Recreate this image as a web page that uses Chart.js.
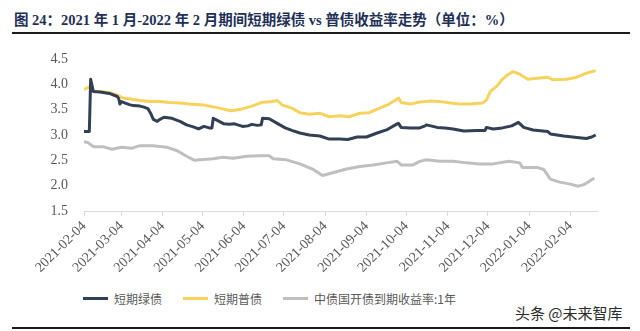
<!DOCTYPE html>
<html>
<head>
<meta charset="utf-8">
<script src="https://cdn.jsdelivr.net/npm/chart.js@4"></script>
<style>
  body { margin: 0; background: #fff; width: 640px; height: 331px; position: relative; overflow: hidden; }
  #title { position: absolute; left: 14px; top: 8px; font: bold 14.5px "Liberation Serif", "Noto Sans CJK SC", serif; color: #1f3057; white-space: nowrap; }
  .rule { position: absolute; left: 12px; width: 618px; height: 2px; background: #1b1b1b; }
  #chart-box { position: absolute; left: 0; top: 0; }
  #legend { position: absolute; left: 83px; top: 290px; display: flex; font: 12px "Noto Sans CJK SC", sans-serif; color: #595959; }
  .item { display: flex; align-items: center; height: 16px; }
  .item .swatch { width: 25px; height: 3px; margin-right: 6px; }
  #mark { position: absolute; left: 515px; top: 302px; font: 15px "Noto Sans CJK SC", sans-serif; color: #2b2b2b; }
</style>
</head>
<body>
<div id="title">图 24：2021 年 1 月-2022 年 2 月期间短期绿债 vs 普债收益率走势（单位：%）</div>
<div class="rule" style="top: 32px;"></div>
<div id="chart-box"><canvas id="yieldChart" width="640" height="285"></canvas></div>
<div id="legend"></div>
<div id="mark">头条 @未来智库</div>
<div class="rule" style="top: 327px;"></div>

<script>
// x-axis tick dates (monthly)
const tickDates = ['2021-02-04', '2021-03-04', '2021-04-04', '2021-05-04', '2021-06-04', '2021-07-04',
    '2021-08-04', '2021-09-04', '2021-10-04', '2021-11-04', '2021-12-04', '2022-01-04', '2022-02-04'];

const seriesNames = ['短期绿债', '短期普债', '中债国开债到期收益率:1年'];
const seriesColors = ['#333f55', '#f7d35e', '#bfbfbf'];

// 短期绿债
const greenDates = ['2021-02-04', '2021-02-08', '2021-02-09', '2021-02-11', '2021-02-16', '2021-02-23',
    '2021-03-01', '2021-03-02', '2021-03-03', '2021-03-04', '2021-03-07', '2021-03-10', '2021-03-13',
    '2021-03-18', '2021-03-21', '2021-03-24', '2021-03-26', '2021-03-28', '2021-03-31', '2021-04-02',
    '2021-04-05', '2021-04-11', '2021-04-17', '2021-04-22', '2021-04-27', '2021-05-01', '2021-05-05',
    '2021-05-09', '2021-05-11', '2021-05-12', '2021-05-15', '2021-05-20', '2021-05-24', '2021-05-28',
    '2021-06-03', '2021-06-07', '2021-06-10', '2021-06-14', '2021-06-17', '2021-06-18', '2021-06-23',
    '2021-06-29', '2021-07-05', '2021-07-10', '2021-07-16', '2021-07-23', '2021-07-31', '2021-08-07',
    '2021-08-15', '2021-08-21', '2021-08-28', '2021-09-04', '2021-09-12', '2021-09-19', '2021-09-27',
    '2021-09-28', '2021-09-30', '2021-10-07', '2021-10-14', '2021-10-18', '2021-10-19', '2021-10-27',
    '2021-11-02', '2021-11-08', '2021-11-16', '2021-11-26', '2021-12-02', '2021-12-03', '2021-12-08',
    '2021-12-15', '2021-12-22', '2021-12-27', '2021-12-31', '2022-01-07', '2022-01-18', '2022-01-20',
    '2022-01-30', '2022-02-09', '2022-02-16', '2022-02-20', '2022-02-23'];
const greenYield = [3.07, 3.07, 4.10, 3.86, 3.85, 3.82,
    3.76, 3.72, 3.61, 3.66, 3.63, 3.60, 3.58,
    3.57, 3.55, 3.52, 3.43, 3.31, 3.27, 3.31,
    3.35, 3.33, 3.27, 3.20, 3.16, 3.12, 3.17,
    3.14, 3.14, 3.33, 3.29, 3.22, 3.21, 3.22,
    3.17, 3.18, 3.21, 3.19, 3.20, 3.33, 3.32,
    3.23, 3.14, 3.09, 3.04, 3.00, 2.98, 2.92,
    2.92, 2.91, 2.96, 2.96, 3.04, 3.10, 3.22,
    3.23, 3.15, 3.14, 3.14, 3.18, 3.20, 3.15,
    3.14, 3.12, 3.08, 3.09, 3.09, 3.15, 3.12,
    3.14, 3.18, 3.25, 3.15, 3.10, 3.07, 3.02,
    2.98, 2.95, 2.93, 2.96, 3.00];

// 短期普债
const ordinaryDates = ['2021-02-04', '2021-02-08', '2021-02-11', '2021-02-16', '2021-02-23', '2021-03-01',
    '2021-03-05', '2021-03-11', '2021-03-18', '2021-03-26', '2021-04-02', '2021-04-09', '2021-04-17',
    '2021-04-24', '2021-05-05', '2021-05-15', '2021-05-25', '2021-06-02', '2021-06-10', '2021-06-17',
    '2021-06-25', '2021-06-29', '2021-07-03', '2021-07-10', '2021-07-16', '2021-07-23', '2021-07-31',
    '2021-08-07', '2021-08-15', '2021-08-22', '2021-08-30', '2021-09-06', '2021-09-14', '2021-09-21',
    '2021-09-27', '2021-09-28', '2021-09-30', '2021-10-07', '2021-10-14', '2021-10-22', '2021-10-29',
    '2021-11-06', '2021-11-13', '2021-11-21', '2021-11-30', '2021-12-03', '2021-12-06', '2021-12-11',
    '2021-12-15', '2021-12-19', '2021-12-23', '2021-12-28', '2022-01-03', '2022-01-10', '2022-01-18',
    '2022-01-22', '2022-02-01', '2022-02-09', '2022-02-16', '2022-02-23'];
const ordinaryYield = [3.90, 3.95, 3.86, 3.86, 3.84, 3.79,
    3.73, 3.71, 3.68, 3.66, 3.66, 3.64, 3.63,
    3.61, 3.59, 3.54, 3.48, 3.51, 3.57, 3.64,
    3.66, 3.68, 3.59, 3.53, 3.44, 3.41, 3.43,
    3.36, 3.38, 3.36, 3.43, 3.44, 3.53, 3.61,
    3.71, 3.73, 3.64, 3.61, 3.65, 3.67, 3.66,
    3.63, 3.61, 3.61, 3.63, 3.69, 3.86, 3.97,
    4.10, 4.19, 4.25, 4.20, 4.10, 4.12, 4.14,
    4.09, 4.10, 4.14, 4.22, 4.27];

// 中债国开债到期收益率:1年
const cdbDates = ['2021-02-04', '2021-02-07', '2021-02-11', '2021-02-18', '2021-02-25', '2021-03-04',
    '2021-03-12', '2021-03-18', '2021-03-28', '2021-04-07', '2021-04-15', '2021-04-22', '2021-04-28',
    '2021-05-02', '2021-05-12', '2021-05-19', '2021-05-27', '2021-06-06', '2021-06-16', '2021-06-23',
    '2021-06-26', '2021-07-06', '2021-07-16', '2021-07-26', '2021-08-02', '2021-08-09', '2021-08-20',
    '2021-08-30', '2021-09-09', '2021-09-19', '2021-09-27', '2021-09-30', '2021-10-09', '2021-10-14',
    '2021-10-19', '2021-10-29', '2021-11-08', '2021-11-18', '2021-11-28', '2021-12-08', '2021-12-20',
    '2021-12-28', '2021-12-30', '2022-01-10', '2022-01-15', '2022-01-20', '2022-01-27', '2022-02-04',
    '2022-02-10', '2022-02-14', '2022-02-18', '2022-02-22'];
const cdbYield = [2.87, 2.85, 2.77, 2.77, 2.72, 2.76,
    2.74, 2.79, 2.79, 2.76, 2.69, 2.58, 2.50,
    2.51, 2.53, 2.56, 2.54, 2.58, 2.59, 2.59,
    2.53, 2.51, 2.43, 2.32, 2.20, 2.25, 2.33,
    2.38, 2.41, 2.45, 2.48, 2.41, 2.41, 2.48,
    2.51, 2.48, 2.48, 2.45, 2.43, 2.43, 2.48,
    2.45, 2.36, 2.36, 2.32, 2.13, 2.07, 2.03,
    1.99, 2.02, 2.08, 2.15];

// days counted from the first trading date
const startDay = Date.parse(tickDates[0]);
function dayOf(date) {
    return (Date.parse(date) - startDay) / 86400000;
}

function toPoints(dates, values) {
    return dates.map((d, i) => ({ x: dayOf(d), y: values[i] }));
}

const pointSets = [
    toPoints(greenDates, greenYield),
    toPoints(ordinaryDates, ordinaryYield),
    toPoints(cdbDates, cdbYield)
];

const serif = '"Liberation Serif", "Times New Roman", serif';
const axisGrey = '#d9d9d9';

const ctx = document.getElementById('yieldChart').getContext('2d');
const yieldChart = new Chart(ctx, {
    type: 'line',
    data: {
        datasets: pointSets.map((pts, i) => ({
            label: seriesNames[i],
            data: pts,
            borderColor: seriesColors[i],
            backgroundColor: seriesColors[i],
            borderWidth: 3,
            pointRadius: 0,
            tension: 0,
            borderJoinStyle: 'round'
        }))
    },
    options: {
        responsive: false,
        animation: false,
        layout: { padding: { top: 59, right: 43, bottom: 0, left: 0 } },
        plugins: {
            legend: { display: false },
            tooltip: { enabled: false }
        },
        scales: {
            x: {
                type: 'linear',
                min: 0,
                max: dayOf('2022-02-24'),
                afterBuildTicks: scale => {
                    scale.ticks = tickDates.map(d => ({ value: dayOf(d) }));
                },
                afterFit: scale => { scale.height = 74; },
                grid: { drawOnChartArea: false, drawTicks: true, tickLength: 5, color: axisGrey },
                border: { display: true, color: axisGrey, width: 1 },
                ticks: {
                    autoSkip: false,
                    maxRotation: 45,
                    minRotation: 45,
                    padding: 2,
                    color: '#595959',
                    font: { family: serif, size: 14 },
                    callback: (value, index) => tickDates[index]
                }
            },
            y: {
                min: 1.5,
                max: 4.5,
                afterFit: scale => { scale.width = 84; },
                grid: { display: false, drawTicks: false },
                border: { display: false },
                ticks: {
                    stepSize: 0.5,
                    padding: 16,
                    color: '#595959',
                    font: { family: serif, size: 14 },
                    callback: value => value.toFixed(1)
                }
            }
        }
    }
});

// legend built from the same series names and colours
const legend = document.getElementById('legend');
seriesNames.forEach((name, i) => {
    const item = document.createElement('div');
    item.className = 'item';
    if (i < seriesNames.length - 1) item.style.width = '100px';
    const swatch = document.createElement('span');
    swatch.className = 'swatch';
    swatch.style.background = seriesColors[i];
    const text = document.createElement('span');
    text.textContent = name;
    item.appendChild(swatch);
    item.appendChild(text);
    legend.appendChild(item);
});
</script>
</body>
</html>
